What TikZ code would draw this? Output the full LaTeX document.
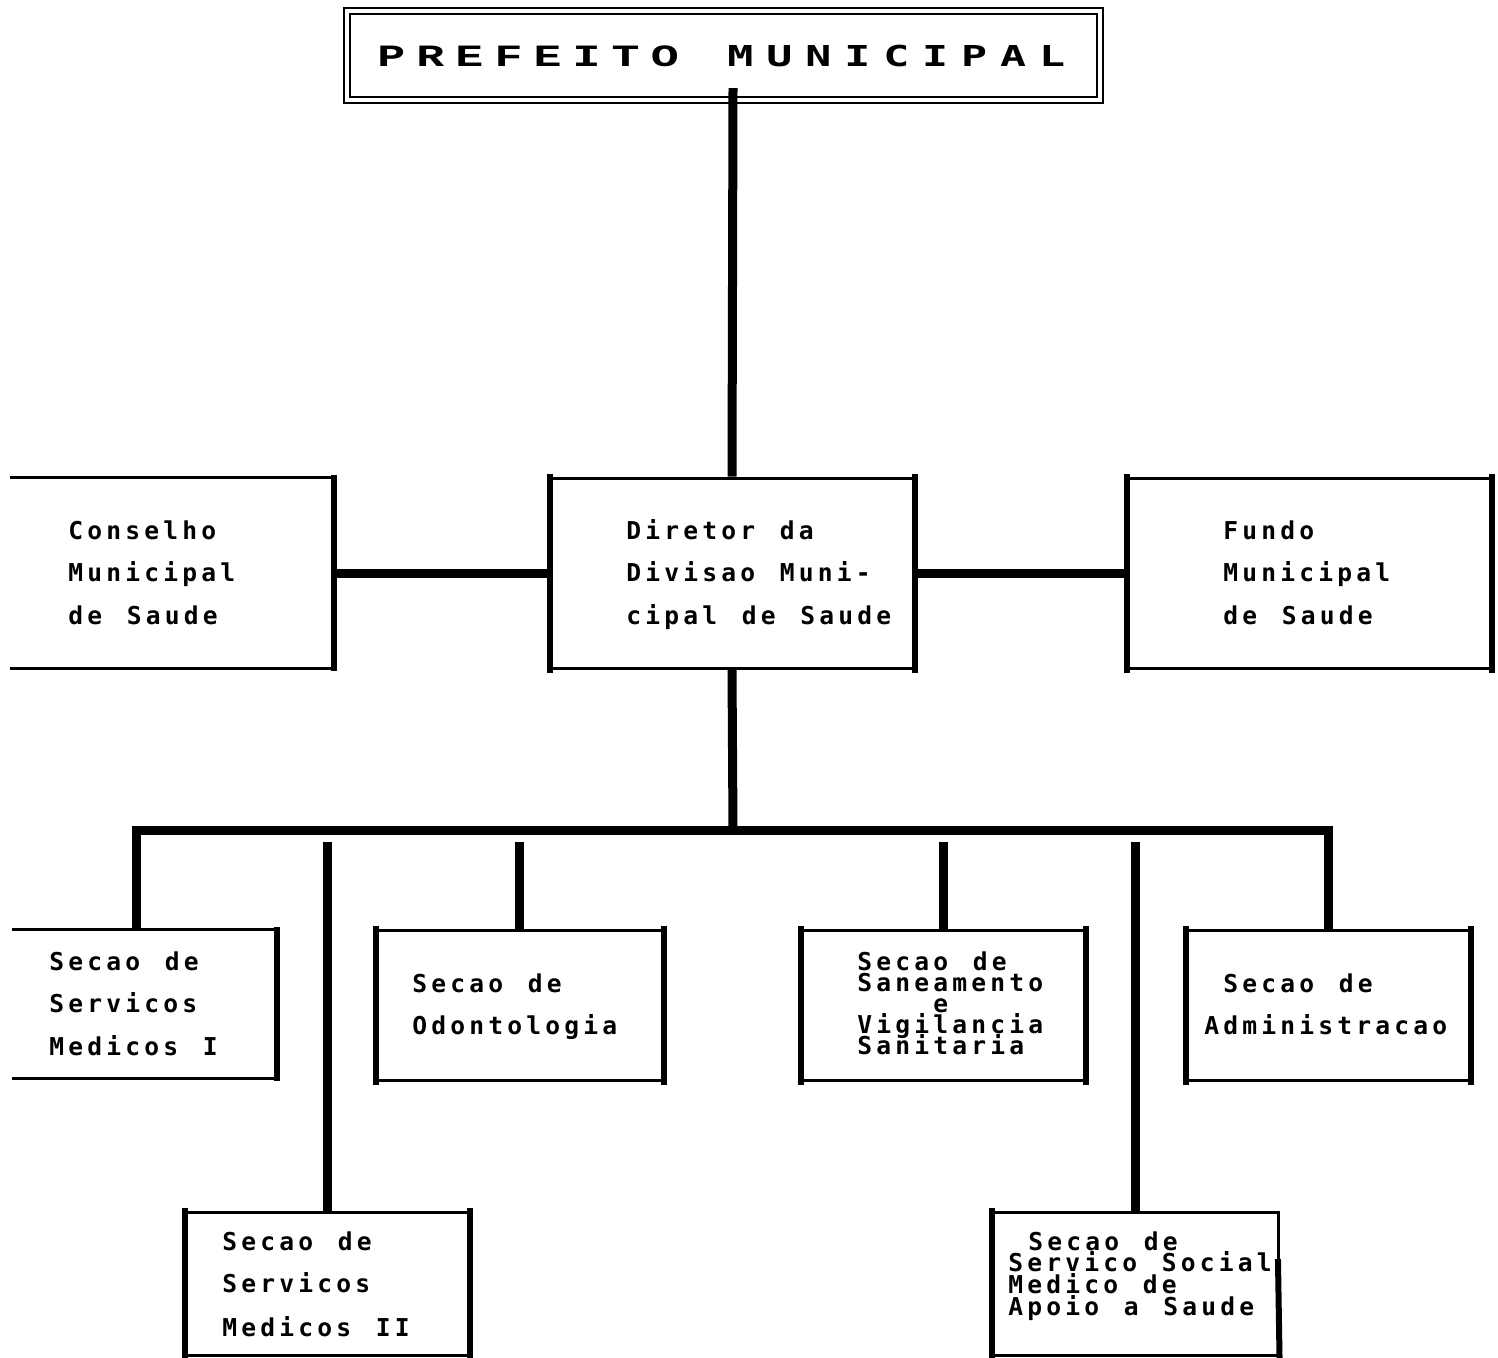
\documentclass[tikz,border=0pt]{standalone}
\usepackage{graphicx}
\usepackage{fontspec}
\newfontfamily\bodyfont[LetterSpace=17,WordSpace={1.3,0,0}]{DejaVu Sans Mono}
\newfontfamily\preffont[LetterSpace=24]{Liberation Mono}
\newfontfamily\munfont[LetterSpace=30]{DejaVu Sans Mono}
\begin{document}
\begin{tikzpicture}[x=0.5pt,y=0.5pt,
  box/.style={draw, line width=1.5pt, inner sep=0pt, rectangle},
  openbox/.style={inner sep=0pt, rectangle},
  vside/.style={line width=3pt, line cap=rect},
  hside/.style={line width=1.5pt},
  conn/.style={line width=4.5pt},
  txt/.style={anchor=base west, inner sep=0pt, font=\bodyfont\bfseries\fontsize{12.3}{14}\selectfont}]
\useasboundingbox[fill=white] (0,0) rectangle (1498,-1357);

% title box (double border)
\node[draw, line width=1pt, double, double distance=2pt, inner sep=0pt,
      minimum width=376.5pt, minimum height=44.5pt] (pm) at (723.5,-55.5) {};
\node[anchor=base west, inner sep=0pt] (pmt) at (377,-66)
  {\makebox[175pt][l]{\scalebox{1.5}[1]{\preffont\bfseries\fontsize{15.5}{18}\selectfont PREFEITO}}\scalebox{1.5}[1]{\munfont\bfseries\fontsize{14.4}{16}\selectfont MUNICIPAL}};

% second level boxes
\node[openbox, minimum width=162pt, minimum height=95pt] (cons) at (172,-573) {};
\node[box, minimum width=181pt, minimum height=95pt] (dir) at (732,-573) {};
\node[box, minimum width=181pt, minimum height=95pt] (fun) at (1309,-573) {};

% third level boxes
\node[openbox, minimum width=132.5pt, minimum height=74pt] (sm1) at (144.5,-1004) {};
\node[box, minimum width=142.5pt, minimum height=75pt] (odo) at (519.5,-1005) {};
\node[box, minimum width=141pt, minimum height=75pt] (san) at (943,-1005) {};
\node[box, minimum width=141pt, minimum height=75pt] (adm) at (1328,-1005) {};
\node[box, minimum width=141pt, minimum height=71.5pt] (sm2) at (327,-1283.5) {};
\node[box, minimum width=142.5pt, minimum height=71.5pt] (ss) at (1135.5,-1283.5) {};

% open-left boxes
\draw[hside] (cons.north west) -- (cons.north east);
\draw[hside] (cons.south west) -- (cons.south east);
\draw[vside] (cons.north east) -- (cons.south east);
\draw[hside] (sm1.north west) -- (sm1.north east);
\draw[hside] (sm1.south west) -- (sm1.south east);
\draw[vside] (sm1.north east) -- (sm1.south east);

% thicker vertical sides
\foreach \b in {dir,fun,odo,san,adm,sm2}{
  \draw[vside] (\b.north west) -- (\b.south west);
  \draw[vside] (\b.north east) -- (\b.south east);
}
\draw[vside] (ss.north west) -- (ss.south west);
\coordinate (ssgap) at (1278,-1262);
\draw[vside] (ssgap) -- (ss.south east);

% connectors
\coordinate (pmstem) at (733,-88);
\draw[conn] (pmstem) -- (dir.north);
\draw[conn] (cons.east) -- (dir.west);
\draw[conn] (dir.east) -- (fun.west);
\coordinate (bus) at (733,-830);
\draw[conn] (dir.south) -- (bus);
\draw[conn] ([xshift=-4.25pt]sm1.north) |- (bus) -| (adm.north);
\draw[conn] (odo.north) -- ++(0,87);
\draw[conn] (san.north) -- ++(0,87);
\draw[conn] (sm2.north) -- ++(0,369);
\draw[conn] (ss.north) -- ++(0,369);

% texts
\node[txt] (cons1) at (68,-539) {Conselho};
\node[txt] (cons2) at (68,-581) {Municipal};
\node[txt] (cons3) at (68,-624) {de Saude};

\node[txt] (dir1) at (626,-539) {Diretor da};
\node[txt] (dir2) at (626,-581) {Divisao Muni-};
\node[txt] (dir3) at (626,-624) {cipal de Saude};

\node[txt] (fun1) at (1223,-539) {Fundo};
\node[txt] (fun2) at (1223,-581) {Municipal};
\node[txt] (fun3) at (1223,-624) {de Saude};

\node[txt] (sm1a) at (49,-970) {Secao de};
\node[txt] (sm1b) at (49,-1012) {Servicos};
\node[txt] (sm1c) at (49,-1055) {Medicos I};

\node[txt] (odo1) at (412,-992) {Secao de};
\node[txt] (odo2) at (412,-1034) {Odontologia};

\node[txt] (san1) at (857,-970) {Secao de};
\node[txt] (san2) at (857,-991) {Saneamento};
\node[txt] (san3) at (933,-1012) {e};
\node[txt] (san4) at (857,-1033) {Vigilancia};
\node[txt] (san5) at (857,-1054) {Sanitaria};

\node[txt] (adm1) at (1223,-992) {Secao de};
\node[txt] (adm2) at (1204,-1034) {Administracao};

\node[txt] (sm2a) at (222,-1250) {Secao de};
\node[txt] (sm2b) at (222,-1292) {Servicos};
\node[txt] (sm2c) at (222,-1336) {Medicos II};

\node[txt] (ss1) at (1028,-1250) {Secao de};
\node[txt] (ss2) at (1008,-1271) {Servico Social};
\node[txt] (ss3) at (1008,-1293) {Medico de};
\node[txt] (ss4) at (1008,-1315) {Apoio a Saude};
\end{tikzpicture}
\end{document}
